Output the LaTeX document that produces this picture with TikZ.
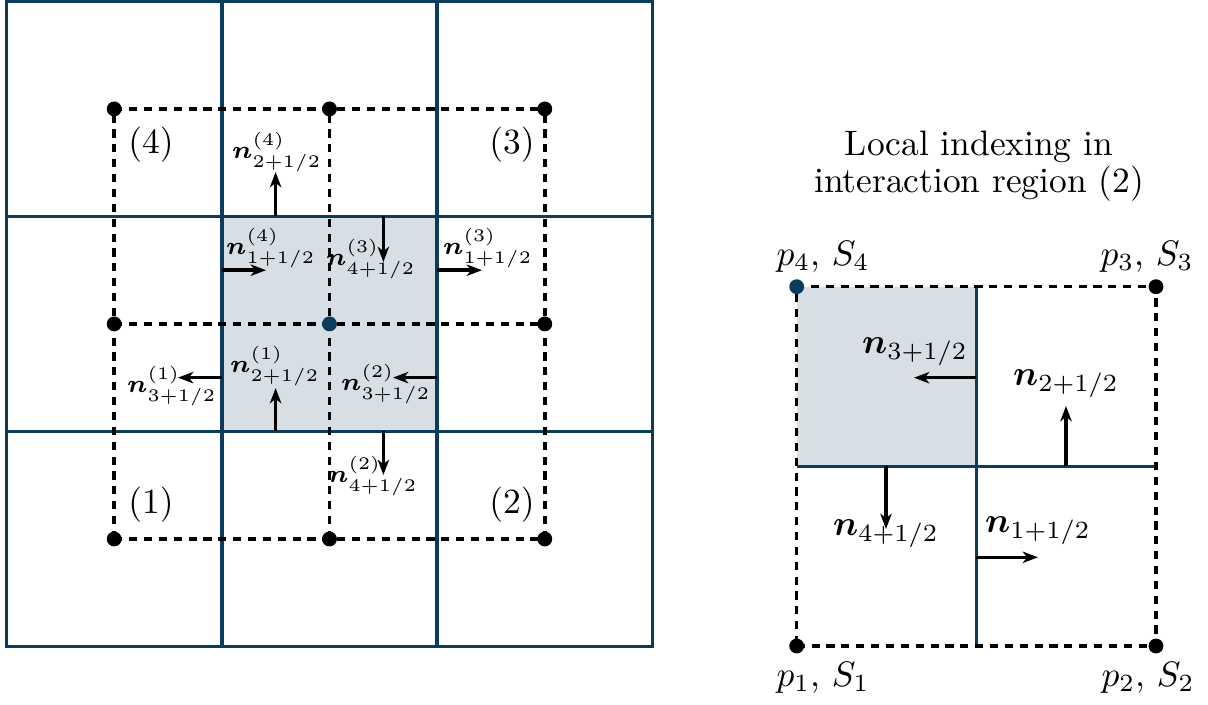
\documentclass[tikz,border=0pt]{standalone}
\usepackage{amsmath}
\usepackage{bm}
\usetikzlibrary{arrows.meta,backgrounds}
\definecolor{gridblue}{HTML}{0B3C5D}
\definecolor{cellshade}{HTML}{D7DEE4}
\begin{document}
\begin{tikzpicture}[x=0.2825pt,y=-0.2825pt,
  gridline/.style={gridblue,line width=1pt},
  dashline/.style={black,line width=1pt,dash pattern=on 2.3pt off 1.9pt},
  dot/.style={circle,fill=black,inner sep=0pt,minimum size=4.2pt},
  cdot/.style={dot,fill=gridblue},
  vec/.style={black,line width=1pt,-{Stealth[length=4.3pt,width=3.2pt,inset=1.2pt]}},
  llbl/.style={font=\scriptsize,inner sep=0pt},
  rlbl/.style={inner sep=0pt},
  reglbl/.style={inner sep=0pt}]
\useasboundingbox (0,0) rectangle (1208,704);

% ---------- left: dots ----------
\node[dot] (L11) at (114.2,539) {};
\node[dot] (L21) at (329.5,539) {};
\node[dot] (L31) at (544.8,539) {};
\node[dot] (L12) at (114.2,323.9) {};
\node[cdot] (L22) at (329.5,323.9) {};
\node[dot] (L32) at (544.8,323.9) {};
\node[dot] (L13) at (114.2,108.9) {};
\node[dot] (L23) at (329.5,108.9) {};
\node[dot] (L33) at (544.8,108.9) {};

% ---------- right: dots ----------
\node[dot] (p1) at (796.7,646) {};
\node[dot] (p2) at (1156,646) {};
\node[dot] (p3) at (1156,286.7) {};
\node[cdot] (p4) at (796.7,286.7) {};

\begin{scope}[on background layer]
  % left grid
  \fill[cellshade] (221.8,216.4) rectangle (437.2,431.4);
  \draw[gridline] (6.5,1.6) rectangle (652.5,646.5);
  \foreach \x in {221.8,437.2} \draw[gridline] (\x,1.6) -- (\x,646.5);
  \foreach \y in {216.4,431.4} \draw[gridline] (6.5,\y) -- (652.5,\y);
  \draw[dashline] (L13.center) -- (L23.center) -- (L33.center);
  \draw[dashline] (L12.center) -- (L22.center) -- (L32.center);
  \draw[dashline] (L11.center) -- (L21.center) -- (L31.center);
  \draw[dashline] (L11.center) -- (L12.center) -- (L13.center);
  \draw[dashline] (L21.center) -- (L22.center) -- (L23.center);
  \draw[dashline] (L31.center) -- (L32.center) -- (L33.center);
  % right grid
  \fill[cellshade] (796.7,286.7) rectangle (976.3,466.3);
  \coordinate (rt) at (976.3,286.7);
  \coordinate (rb) at (976.3,646);
  \coordinate (rl) at (796.7,466.3);
  \coordinate (rr) at (1156,466.3);
  \draw[gridline] (rt) -- (rb);
  \draw[gridline] (rl) -- (rr);
  \draw[dashline] (p1.center) -- (p2.center) -- (p3.center) -- (p4.center) -- cycle;
\end{scope}

% ---------- left: normal vectors ----------
\coordinate (a1s) at (275.6,216.4); \coordinate (a1e) at (275.6,172);
\coordinate (a2s) at (221.8,270.2); \coordinate (a2e) at (266,270.2);
\coordinate (a3s) at (383.4,216.4); \coordinate (a3e) at (383.4,262);
\coordinate (a4s) at (437.2,270.2); \coordinate (a4e) at (482,270.2);
\coordinate (a5s) at (221.8,377.6); \coordinate (a5e) at (178,377.6);
\coordinate (a6s) at (275.6,431.4); \coordinate (a6e) at (275.6,388);
\coordinate (a7s) at (437.2,377.6); \coordinate (a7e) at (393,377.6);
\coordinate (a8s) at (383.4,431.4); \coordinate (a8e) at (383.4,475);
\foreach \k in {1,...,8} \draw[vec] (a\k s) -- (a\k e);

\node[llbl] (t1) at (277,152) {$\bm{n}^{(4)}_{2+1/2}$};
\node[llbl] (t2) at (271,248) {$\bm{n}^{(4)}_{1+1/2}$};
\node[llbl] (t3) at (371,259) {$\bm{n}^{(3)}_{4+1/2}$};
\node[llbl] (t4) at (488,248) {$\bm{n}^{(3)}_{1+1/2}$};
\node[llbl] (t5) at (172,386) {$\bm{n}^{(1)}_{3+1/2}$};
\node[llbl] (t6) at (275,366) {$\bm{n}^{(1)}_{2+1/2}$};
\node[llbl] (t7) at (386,384) {$\bm{n}^{(2)}_{3+1/2}$};
\node[llbl] (t8) at (373,476) {$\bm{n}^{(2)}_{4+1/2}$};

\node[reglbl] (r4) at (151,145) {$(4)$};
\node[reglbl] (r3) at (512,145) {$(3)$};
\node[reglbl] (r1) at (151,505) {$(1)$};
\node[reglbl] (r2) at (512,505) {$(2)$};

% ---------- right: normal vectors ----------
\coordinate (b3s) at (976.3,377.7); \coordinate (b3e) at (914,377.7);
\coordinate (b2s) at (1066,466.3); \coordinate (b2e) at (1066,406);
\coordinate (b4s) at (886,466.3); \coordinate (b4e) at (886,529);
\coordinate (b1s) at (976.3,557.3); \coordinate (b1e) at (1038,557.3);
\foreach \k in {1,...,4} \draw[vec] (b\k s) -- (b\k e);

\node[rlbl] (u3) at (915,352) {$\bm{n}_{3+1/2}$};
\node[rlbl] (u2) at (1066,384) {$\bm{n}_{2+1/2}$};
\node[rlbl] (u4) at (886,534) {$\bm{n}_{4+1/2}$};
\node[rlbl] (u1) at (1038,531) {$\bm{n}_{1+1/2}$};

\node[rlbl] (q4) at (823,257) {$p_4$, $S_4$};
\node[rlbl] (q3) at (1147,257) {$p_3$, $S_3$};
\node[rlbl] (q1) at (823,678) {$p_1$, $S_1$};
\node[rlbl] (q2) at (1148,678) {$p_2$, $S_2$};

\node[align=center,inner sep=0pt] (title) at (979,166) {Local indexing in\\[-1.5pt]interaction region (2)};
\end{tikzpicture}
\end{document}
